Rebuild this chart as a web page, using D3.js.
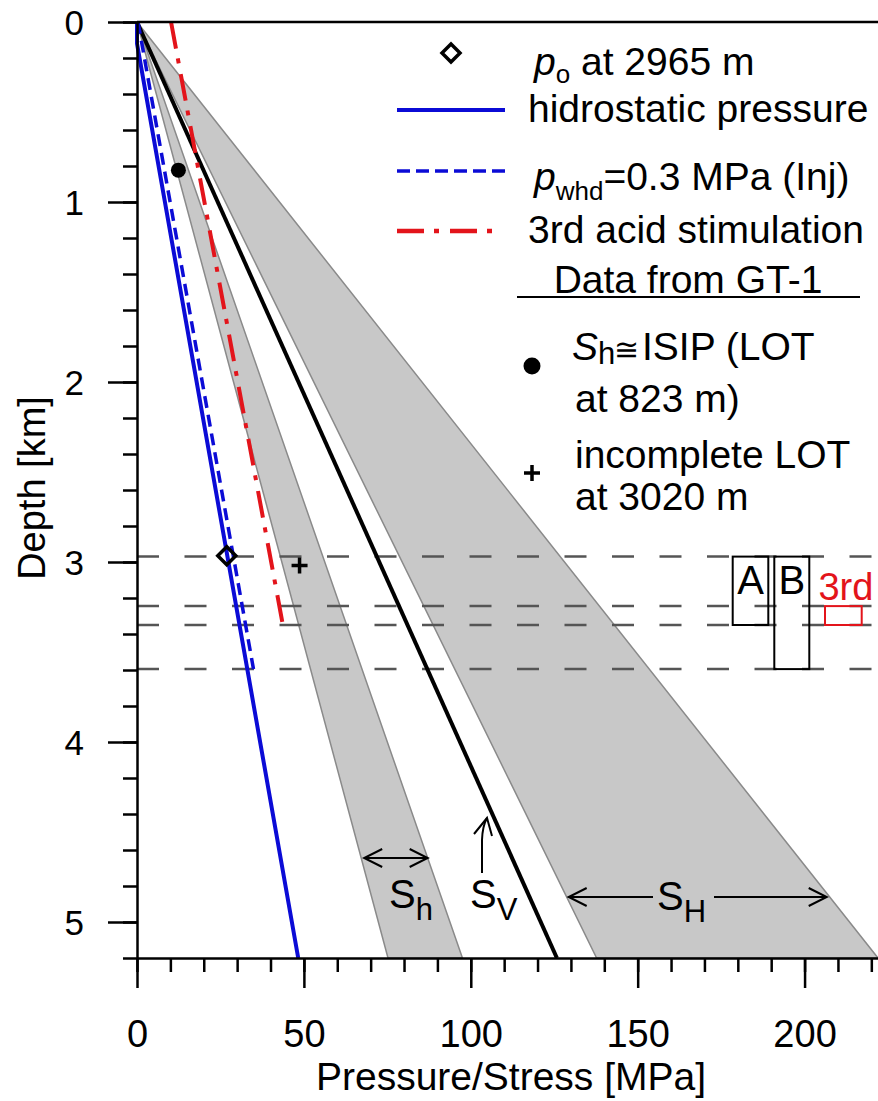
<!DOCTYPE html>
<html>
<head>
<meta charset="utf-8">
<script src="https://cdn.jsdelivr.net/npm/d3@7"></script>
<style>
  html, body { margin: 0; padding: 0; background: #fff; }
  svg text { font-family: Arial, "Liberation Sans", Helvetica, sans-serif; fill: #000; }
</style>
</head>
<body>
<svg id="chart" width="878" height="1101"></svg>
<script>
// Pressure / stress profiles, each point is [pressure MPa, depth km]
const hydrostatic    = [[0, 0], [0, 0.12], [48.3, 5.2]];
const injectionWhd   = [[0.3, 0], [34.9, 3.595]];
const acidStim3      = [[10.2, 0], [43.7, 3.35]];
const verticalStress = [[0, 0], [125.8, 5.2]];

// Stress bands (Sh, SH): bounds in MPa at the base depth
const baseDepth      = 5.2;
const bandNames      = ["Sh", "SH"];
const bandLowAtBase  = [75.2, 137.7];
const bandHighAtBase = [97.5, 222];

// GT-1 point data [MPa, km]
const poPoint   = [26.9, 2.965];
const isipPoint = [12.4, 0.823];
const lotPoint  = [48.7, 3.02];

// Open-hole / stimulated intervals (km)
const intervalNames  = ["A", "B", "3rd"];
const intervalTop    = [2.97, 2.97, 3.245];
const intervalBottom = [3.35, 3.595, 3.35];

// Axis ticks
const depthTicks    = [0, 1, 2, 3, 4, 5];
const pressureTicks = [0, 50, 100, 150, 200];

const BLUE = "#0b0bd6", RED = "#e3141b";

const svg = d3.select("#chart");
const x = d3.scaleLinear().domain([0, 222]).range([137, 878]);
const y = d3.scaleLinear().domain([0, baseDepth]).range([22, 958]);
const line = d3.line().x(d => x(d[0])).y(d => y(d[1]));

// Stress bands
bandNames.forEach((name, i) => {
  svg.append("path")
    .attr("d", line([[0, 0], [bandLowAtBase[i], baseDepth], [bandHighAtBase[i], baseDepth]]) + "Z")
    .attr("fill", "#c8c8c8")
    .attr("stroke", "#8a8a8a")
    .attr("stroke-width", 1.5);
});

// Horizontal dashed lines at interval boundaries
const boundaryDepths = Array.from(new Set(intervalTop.concat(intervalBottom))).sort((a, b) => a - b);
svg.selectAll(".bound").data(boundaryDepths).enter().append("line")
  .attr("x1", x(0)).attr("x2", x(222))
  .attr("y1", d => y(d)).attr("y2", d => y(d))
  .attr("stroke", "#555").attr("stroke-width", 2.5)
  .attr("stroke-dasharray", "22,25.5");

// Profiles
svg.append("path").attr("d", line(verticalStress)).attr("fill", "none")
  .attr("stroke", "#000").attr("stroke-width", 4);
svg.append("path").attr("d", line(hydrostatic)).attr("fill", "none")
  .attr("stroke", BLUE).attr("stroke-width", 4);
svg.append("path").attr("d", line(injectionWhd)).attr("fill", "none")
  .attr("stroke", BLUE).attr("stroke-width", 3.5).attr("stroke-dasharray", "12,7");
svg.append("path").attr("d", line(acidStim3)).attr("fill", "none")
  .attr("stroke", RED).attr("stroke-width", 4).attr("stroke-dasharray", "27,10,5,11");

// Markers
function diamond(g, cx, cy) {
  g.append("path")
    .attr("d", `M${cx},${cy - 9}L${cx + 9},${cy}L${cx},${cy + 9}L${cx - 9},${cy}Z`)
    .attr("fill", "none").attr("stroke", "#000").attr("stroke-width", 3.5);
}
function plus(g, cx, cy) {
  g.append("path")
    .attr("d", `M${cx - 8},${cy}H${cx + 8}M${cx},${cy - 8}V${cy + 8}`)
    .attr("stroke", "#000").attr("stroke-width", 3.5);
}
diamond(svg, x(poPoint[0]), y(poPoint[1]));
svg.append("circle").attr("cx", x(isipPoint[0])).attr("cy", y(isipPoint[1])).attr("r", 7.5).attr("fill", "#000");
plus(svg, x(lotPoint[0]), y(lotPoint[1]));

// Interval boxes
const boxLeft = [732.7, 774.3, 825];
const boxWidth = [35.6, 35, 36.7];
intervalNames.forEach((name, i) => {
  const col = name === "3rd" ? RED : "#000";
  svg.append("rect")
    .attr("x", boxLeft[i]).attr("width", boxWidth[i])
    .attr("y", y(intervalTop[i])).attr("height", y(intervalBottom[i]) - y(intervalTop[i]))
    .attr("fill", "none").attr("stroke", col).attr("stroke-width", 2);
  const t = svg.append("text")
    .attr("x", boxLeft[i] + boxWidth[i] / 2 + (name === "3rd" ? 2.5 : 0))
    .attr("y", name === "3rd" ? 600 : 594)
    .attr("text-anchor", "middle")
    .attr("font-size", name === "3rd" ? 38 : 40)
    .text(name);
  if (name === "3rd") t.style("fill", RED);
});

// Band annotations
function chevron(tipX, tipY, dir) { // dir: -1 pointing left, +1 pointing right
  return `M${tipX - dir * 18},${tipY - 9}L${tipX},${tipY}L${tipX - dir * 18},${tipY + 9}`;
}
const ann = svg.append("g").attr("fill", "none").attr("stroke", "#000").attr("stroke-width", 2);
// Sh width arrow
const yShArrow = 858, dSh = y.invert(yShArrow);
const shL = x(bandLowAtBase[0] * dSh / baseDepth) + 3, shR = x(bandHighAtBase[0] * dSh / baseDepth);
ann.append("path").attr("d", `M${shL},${yShArrow}H${shR}` + chevron(shL, yShArrow, -1) + chevron(shR, yShArrow, 1));
// SH width arrows
const ySHArrow = 897, dSH = y.invert(ySHArrow);
const sHL = x(bandLowAtBase[1] * dSH / baseDepth) + 2, sHR = x(bandHighAtBase[1] * dSH / baseDepth) - 3;
ann.append("path").attr("d", `M${sHL},${ySHArrow}H653` + chevron(sHL, ySHArrow, -1));
ann.append("path").attr("d", `M714,${ySHArrow}H${sHR}` + chevron(sHR, ySHArrow, 1));
// Sv pointer
ann.append("path").attr("d", "M482,873V840Q482.5,826 487,818");
ann.append("path").attr("d", "M474,834L487,818L492,836");

function labelS(px, py, sub) {
  const t = svg.append("text").attr("x", px).attr("y", py).attr("font-size", 40);
  t.append("tspan").text("S");
  t.append("tspan").attr("font-size", 31).attr("dy", 12).text(sub);
}
labelS(389, 908, "h");
labelS(470, 908, "V");
labelS(657, 910, "H");

// Axes
const xMinor = d3.axisBottom(x).tickValues(d3.range(0, 23).map(i => i * 10)).tickSize(14).tickFormat("").tickSizeOuter(0);
const xMajor = d3.axisBottom(x).tickValues(pressureTicks).tickSize(30).tickFormat(d3.format("d")).tickSizeOuter(0);
const yMinor = d3.axisLeft(y).tickValues(d3.range(0, 27).map(i => +(i * 0.2).toFixed(1))).tickSize(14).tickFormat("").tickSizeOuter(0);
const yMajor = d3.axisLeft(y).tickValues(depthTicks).tickSize(29).tickFormat(d3.format("d")).tickSizeOuter(0);

function styleAxis(g) {
  g.selectAll("line").attr("stroke", "#000").attr("stroke-width", 2.5);
  g.selectAll("path").attr("stroke", "#000").attr("stroke-width", 2.5);
  g.attr("font-family", null).attr("font-size", null);
}
const gx1 = svg.append("g").attr("transform", `translate(0,${y(baseDepth)})`).call(xMinor);
const gx2 = svg.append("g").attr("transform", `translate(0,${y(baseDepth)})`).call(xMajor);
gx2.select(".domain").remove();
gx2.selectAll("text").attr("y", 89).attr("dy", null).attr("font-size", 38);
const gy1 = svg.append("g").attr("transform", `translate(${x(0)},0)`).call(yMinor);
const gy2 = svg.append("g").attr("transform", `translate(${x(0)},0)`).call(yMajor);
gy2.select(".domain").remove();
gy2.selectAll("text").attr("x", -53).attr("dy", "0.36em").attr("font-size", 35);
[gx1, gx2, gy1, gy2].forEach(styleAxis);

// Top frame line
svg.append("line").attr("x1", x(0)).attr("x2", x(222)).attr("y1", y(0)).attr("y2", y(0))
  .attr("stroke", "#000").attr("stroke-width", 2.5);

// Axis titles
svg.append("text").attr("x", 511).attr("y", 1090).attr("text-anchor", "middle")
  .attr("font-size", 39).text("Pressure/Stress [MPa]");
svg.append("text").attr("transform", "translate(45,488) rotate(-90)").attr("text-anchor", "middle")
  .attr("font-size", 38).text("Depth [km]");

// Legend
const lg = svg.append("g");
diamond(lg, 451, 53);
let t = lg.append("text").attr("x", 534).attr("y", 75).attr("font-size", 39);
t.append("tspan").attr("font-style", "italic").text("p");
t.append("tspan").attr("font-size", 26).attr("dy", 8).text("o");
t.append("tspan").attr("dy", -8).text(" at 2965 m");

lg.append("line").attr("x1", 397).attr("x2", 505).attr("y1", 110).attr("y2", 110)
  .attr("stroke", BLUE).attr("stroke-width", 4);
lg.append("text").attr("x", 528).attr("y", 122).attr("font-size", 39).text("hidrostatic pressure");

lg.append("line").attr("x1", 397).attr("x2", 505).attr("y1", 171).attr("y2", 171)
  .attr("stroke", BLUE).attr("stroke-width", 3.5).attr("stroke-dasharray", "13,6");
t = lg.append("text").attr("x", 534).attr("y", 190).attr("font-size", 39);
t.append("tspan").attr("font-style", "italic").text("p");
t.append("tspan").attr("font-size", 26).attr("dy", 10).text("whd");
t.append("tspan").attr("dy", -10).text("=0.3 MPa (Inj)");

lg.append("line").attr("x1", 397).attr("x2", 495).attr("y1", 231).attr("y2", 231)
  .attr("stroke", RED).attr("stroke-width", 4.5).attr("stroke-dasharray", "27,10,5,11");
lg.append("text").attr("x", 528).attr("y", 243).attr("font-size", 39).text("3rd acid stimulation");

lg.append("text").attr("x", 688).attr("y", 293).attr("text-anchor", "middle").attr("font-size", 39).text("Data from GT-1");
lg.append("line").attr("x1", 517).attr("x2", 860).attr("y1", 297).attr("y2", 297)
  .attr("stroke", "#000").attr("stroke-width", 2);

lg.append("circle").attr("cx", 532).attr("cy", 366).attr("r", 8.5).attr("fill", "#000");
t = lg.append("text").attr("x", 572).attr("y", 360).attr("font-size", 39);
t.append("tspan").attr("font-style", "italic").text("S");
t.append("tspan").attr("font-size", 31).attr("dy", 4).text("h");
t.append("tspan").attr("x", 614).attr("dy", -4).attr("font-size", 30).text("≅");
t.append("tspan").attr("x", 642).text("ISIP (LOT");
lg.append("text").attr("x", 575).attr("y", 412).attr("font-size", 39).text("at 823 m)");

plus(lg, 532, 473);
lg.append("text").attr("x", 575).attr("y", 468).attr("font-size", 39).text("incomplete LOT");
lg.append("text").attr("x", 575).attr("y", 510).attr("font-size", 39).text("at 3020 m");
</script>
</body>
</html>
